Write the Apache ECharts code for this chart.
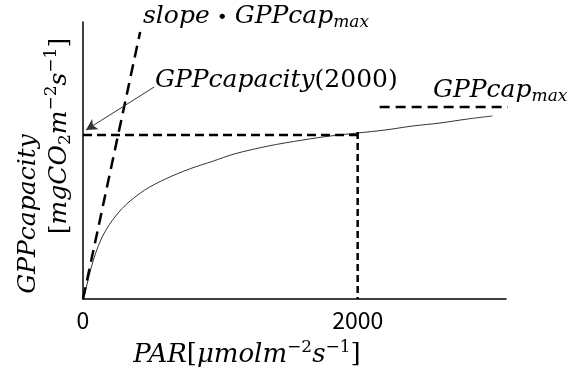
<!DOCTYPE html>
<html><head><meta charset="utf-8">
<script src="https://cdn.jsdelivr.net/npm/echarts@6/dist/echarts.min.js"></script>
<style>html,body{margin:0;padding:0;background:#fff}#c{width:572px;height:374px}</style>
</head><body><div id="c"></div>
<script>
// PAR values (µmol m-2 s-1) and GPP capacity (arbitrary units)
const parX = [0, 10, 30, 55, 90, 140, 210, 310, 450, 600, 775, 950, 1100, 1350, 1600, 1800, 2000, 2200, 2400, 2600, 2800, 2980];
const gppY = [0, 4, 15, 29, 45, 62, 78, 94, 109, 120, 130, 138, 145, 153, 159, 163, 166, 169, 173, 176, 180, 183];
const slopeX = [0, 416];
const slopeY = [0, 267];
const capMaxX = [2160, 3620];
const capMaxY = [192, 192];
const cap2000X = [0, 2000];
const cap2000Y = [164, 164];
const vertX = [2000, 2000];
const vertY = [167, 0];
const arrowFrom = [518, 212];
const arrowTo = [22, 169];
const xTicks = [0, 2000];
const xMax = 3080;
const yMax = 277;

const zip = (a, b) => a.map((v, i) => [v, b[i]]);
const serif = 'DejaVu Serif';
const mkRich = (mainSize, subSize, off) => ({
  i: {fontFamily: serif, fontStyle: 'italic', fontSize: mainSize, color: '#000'},
  n: {fontFamily: serif, fontSize: mainSize, color: '#000'},
  dot: {fontFamily: 'Noto Sans CJK JP', fontSize: mainSize, color: '#000'},
  sub: {fontFamily: serif, fontStyle: 'italic', fontSize: subSize, color: '#000', padding: [off, 0, 0, 0]},
  subn: {fontFamily: serif, fontSize: subSize, color: '#000', padding: [off, 0, 0, 0]},
  sup: {fontFamily: serif, fontSize: subSize, color: '#000', padding: [0, 0, off, 0]}
});
const rich = mkRich(25, 17, 14);
const richX = mkRich(26, 17, 14);

const chart = echarts.init(document.getElementById('c'), null, {renderer: 'canvas'});
const dash = (w, t) => ({color: '#000', width: w, type: t});
chart.setOption({
  animation: false,
  backgroundColor: '#fff',
  grid: {left: 83, right: 66, top: 22, bottom: 75},
  xAxis: {
    type: 'value', min: 0, max: xMax,
    axisLine: {lineStyle: {color: '#000', width: 1.5}},
    axisTick: {show: false},
    splitLine: {show: false},
    axisLabel: {customValues: xTicks, formatter: v => String(v), margin: 10, fontSize: 23, fontFamily: 'Noto Sans CJK JP', color: '#000'}
  },
  yAxis: {
    type: 'value', min: 0, max: yMax,
    axisLine: {show: true, lineStyle: {color: '#000', width: 1.5}},
    axisTick: {show: false}, axisLabel: {show: false}, splitLine: {show: false}
  },
  series: [
    {type: 'line', data: zip(parX, gppY), smooth: 0.3, symbol: 'none', lineStyle: {color: '#333', width: 1}},
    {type: 'line', data: zip(slopeX, slopeY), symbol: 'none', clip: false, lineStyle: dash(2.5, [12, 7]),
     markLine: {silent: true, symbol: ['none', 'arrow'], symbolSize: [9, 11], label: {show: false},
       lineStyle: {color: '#333', width: 1, type: 'solid'},
       data: [[{coord: arrowFrom}, {coord: arrowTo}]]}},
    {type: 'line', data: zip(capMaxX, capMaxY), symbol: 'none', clip: false, lineStyle: dash(2.5, [10, 6])},
    {type: 'line', data: zip(cap2000X, cap2000Y), symbol: 'none', lineStyle: dash(2.5, [9, 5])},
    {type: 'line', data: zip(vertX, vertY), symbol: 'none', lineStyle: dash(2.5, [7, 4])}
  ],
  graphic: [
    {type: 'text', x: 143, y: 16, style: {text: '{i|slope}{dot|・}{i|GPPcap}{sub|max}', rich, verticalAlign: 'middle', align: 'left'}},
    {type: 'text', x: 155, y: 80, style: {text: '{i|GPPcapacity}{n|(2000)}', rich, verticalAlign: 'middle', align: 'left'}},
    {type: 'text', x: 433, y: 90, style: {text: '{i|GPPcap}{sub|max}', rich, verticalAlign: 'middle', align: 'left'}},
    {type: 'text', x: 247, y: 355, style: {text: '{i|PAR}{n|[}{i|μmolm}{sup|−2}{i|s}{sup|−1}{n|]}', rich: richX, verticalAlign: 'middle', align: 'center'}},
    {type: 'text', x: 28, y: 214, rotation: Math.PI / 2, style: {text: '{i|GPPcapacity}', rich, verticalAlign: 'middle', align: 'center'}},
    {type: 'text', x: 59, y: 136, rotation: Math.PI / 2, style: {text: '{n|[}{i|mgCO}{subn|2}{i|m}{sup|−2}{i|s}{sup|−1}{n|]}', rich, verticalAlign: 'middle', align: 'center'}}
  ]
});
</script></body></html>
